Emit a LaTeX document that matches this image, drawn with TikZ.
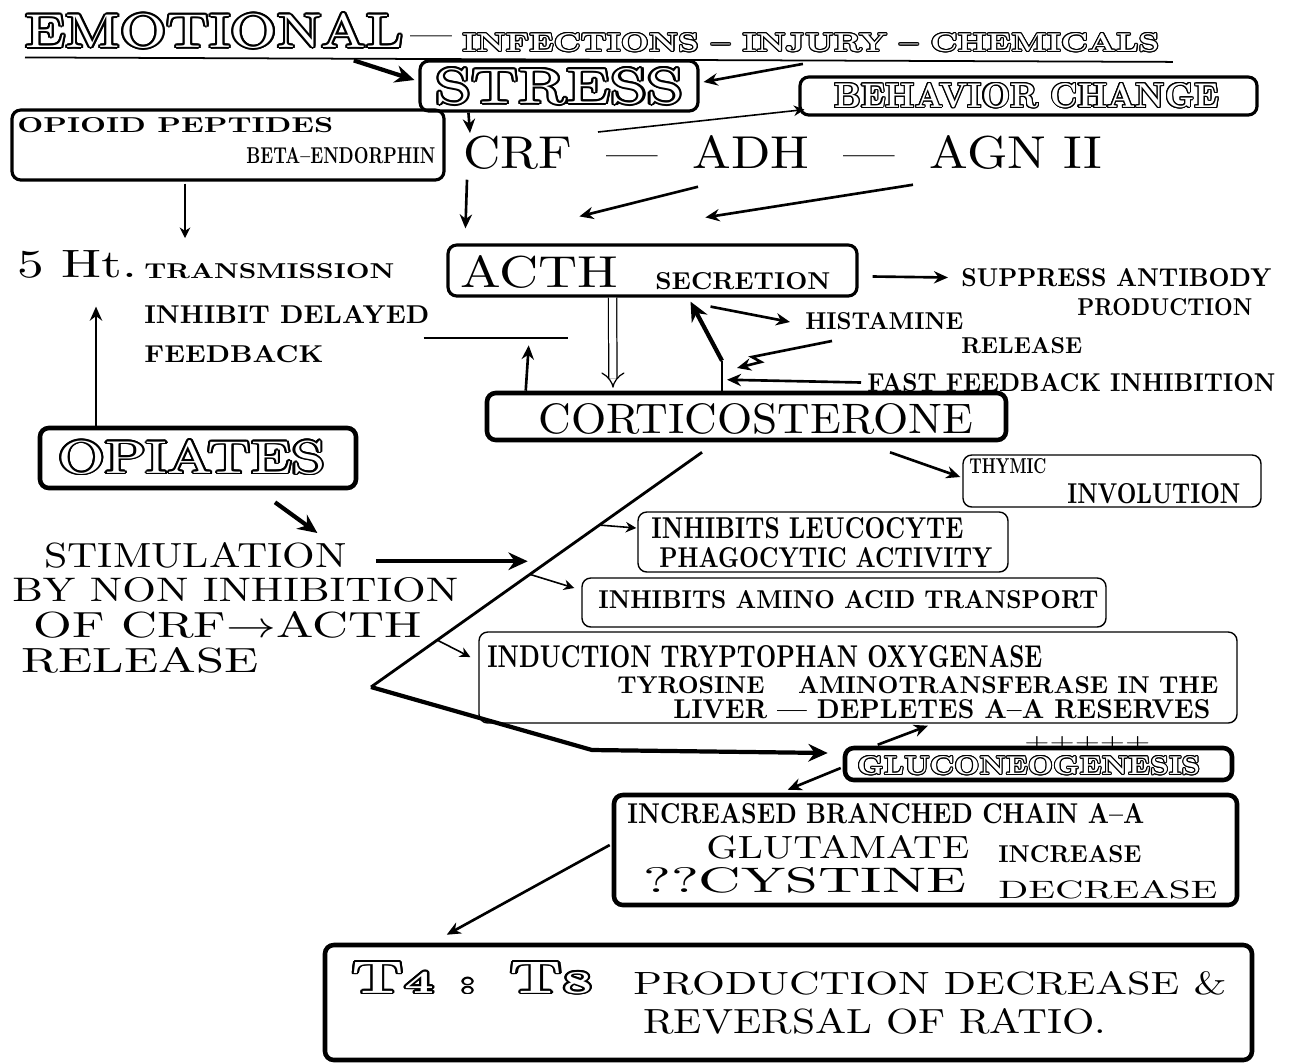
\documentclass[tikz,border=0pt]{standalone}
\usepackage{graphicx}
\usepackage[copies]{contour}
\usetikzlibrary{arrows.meta,calc}

\newlength{\pxu}
\setlength{\pxu}{0.02cm}
% text squeezed to the size it has on the sheet
\newcommand{\fit}[3]{\resizebox{#1\pxu}{#2\pxu}{#3}}
% hollow lettering
\newcommand{\hollow}[1]{{\color{white}\contour{black}{#1}}}
\contourlength{0.35pt}

\begin{document}
\begin{tikzpicture}[x=0.02cm,y=-0.02cm,
        txt/.style={inner sep=0pt,anchor=north west},
        framed/.style={draw,line width=1.8pt,rounded corners=5pt,inner sep=0pt},
        heavy/.style={draw,line width=2.6pt,rounded corners=5pt,inner sep=0pt},
        lightbox/.style={draw,line width=0.8pt,rounded corners=5pt,inner sep=0pt},
        arr/.style={-{Stealth[length=8pt,width=7pt]},line width=1.5pt},
        thinarr/.style={-{Stealth[length=6pt,width=6pt]},line width=0.9pt},
        fatarr/.style={-{Stealth[length=11pt,width=10pt]},line width=2.4pt}
    ]

    \useasboundingbox (0,0) rectangle (1290,1063);

    % boxes
    \node[framed,minimum width=278\pxu,minimum height=50\pxu] (stress) at (559,86) {};
    \node[framed,minimum width=457\pxu,minimum height=38\pxu] (behav) at (1028.5,96) {};
    \node[framed,minimum width=432\pxu,minimum height=70\pxu] (opioid) at (228,145) {};
    \node[framed,minimum width=409\pxu,minimum height=51\pxu] (acth) at (652.5,270.5) {};
    \node[heavy,minimum width=519\pxu,minimum height=47\pxu] (cort) at (746.5,416.5) {};
    \node[heavy,minimum width=316\pxu,minimum height=60\pxu] (opiates) at (198,458) {};
    \node[lightbox,minimum width=298\pxu,minimum height=52\pxu] (thymic) at (1112,481) {};
    \node[lightbox,minimum width=370\pxu,minimum height=60\pxu] (leuco) at (823,542) {};
    \node[lightbox,minimum width=524\pxu,minimum height=49\pxu] (amino) at (844,602.5) {};
    \node[lightbox,minimum width=758\pxu,minimum height=91\pxu] (induct) at (858,677.5) {};
    \node[heavy,minimum width=387\pxu,minimum height=32\pxu] (gluco) at (1038.5,764) {};
    \node[heavy,minimum width=623\pxu,minimum height=110\pxu] (incr) at (925.5,850) {};
    \node[heavy,minimum width=927\pxu,minimum height=115\pxu] (tcell) at (788.5,1002.5) {};

    % texts
    \node[txt] (emo) at (25,13) {\fit{378}{34}{\hollow{EMOTIONAL}}};
    \node[txt] (dash) at (410,36) {\resizebox{42\pxu}{!}{---}};
    \node[txt] (infect) at (462,33) {\fit{697}{18}{\hollow{\bfseries INFECTIONS -- INJURY -- CHEMICALS}}};
    \node[txt] (stresst) at (435,68) {\fit{248}{35}{\hollow{STRESS}}};
    \node[txt] (behavt) at (834,83) {\fit{385}{24}{\hollow{\bfseries BEHAVIOR CHANGE}}};
    \node[txt] (opioid1) at (17,117) {\fit{316}{15}{\bfseries OPIOID PEPTIDES}};
    \node[txt] (opioid2) at (246,147) {\fit{189}{16}{\bfseries BETA--ENDORPHIN}};
    \node[txt] (chem) at (463,135) {\fit{639}{33}{CRF \ --- \ ADH \ --- \ AGN II}};
    \node[txt] (ht) at (17,250) {\fit{120}{27}{5 Ht.}};
    \node[txt] (trans) at (144,263) {\fit{250}{15}{\bfseries TRANSMISSION}};
    \node[txt] (inhib) at (144,305) {\fit{285}{18}{\bfseries INHIBIT DELAYED}};
    \node[txt] (feedb) at (144,345) {\fit{179}{17}{\bfseries FEEDBACK}};
    \node[txt] (actht) at (460,255) {\fit{158}{32}{ACTH}};
    \node[txt] (secr) at (655,272) {\fit{175}{17}{\bfseries SECRETION}};
    \node[txt] (suppr) at (961,268) {\fit{310}{18}{\bfseries SUPPRESS ANTIBODY}};
    \node[txt] (prod) at (1077,298) {\fit{175}{17}{\bfseries PRODUCTION}};
    \node[txt] (hist) at (805,312) {\fit{158}{17}{\bfseries HISTAMINE}};
    \node[txt] (relh) at (961,337) {\fit{121}{16}{\bfseries RELEASE}};
    \node[txt] (fast) at (867,373) {\fit{408}{18}{\bfseries FAST FEEDBACK INHIBITION}};
    \node[txt] (cortt) at (538,403) {\fit{435}{30}{CORTICOSTERONE}};
    \node[txt] (opt) at (58,440) {\fit{267}{33}{\hollow{OPIATES}}};
    \node[txt] (stim1) at (44,542) {\fit{302}{25}{STIMULATION}};
    \node[txt] (stim2) at (12,577) {\fit{446}{24}{BY NON INHIBITION}};
    \node[txt] (stim3) at (33,611) {\fit{388}{26}{OF CRF$\rightarrow$ACTH}};
    \node[txt] (stim4) at (21,647) {\fit{237}{25}{RELEASE}};
    \node[txt] (thy1) at (969,458) {\fit{77}{15}{\bfseries THYMIC}};
    \node[txt] (thy2) at (1067,483) {\fit{173}{20}{\bfseries INVOLUTION}};
    \node[txt] (leu1) at (651,517) {\fit{312}{21}{\bfseries INHIBITS LEUCOCYTE}};
    \node[txt] (leu2) at (659,547) {\fit{333}{20}{\bfseries PHAGOCYTIC ACTIVITY}};
    \node[txt] (ami) at (598,590) {\fit{500}{18}{\bfseries INHIBITS AMINO ACID TRANSPORT}};
    \node[txt] (ind1) at (487,645) {\fit{555}{22}{\bfseries INDUCTION TRYPTOPHAN OXYGENASE}};
    \node[txt] (ind2) at (617,676) {\fit{601}{17}{\bfseries TYROSINE \quad AMINOTRANSFERASE IN THE}};
    \node[txt] (ind3) at (673,699) {\fit{537}{19}{\bfseries LIVER --- DEPLETES A--A RESERVES}};
    \node[txt] (plus) at (1024,736) {\fit{126}{12}{+++++}};
    \node[txt] (glut) at (857,756) {\fit{343}{18}{\hollow{\bfseries GLUCONEOGENESIS}}};
    \node[txt] (inc1) at (627,803) {\fit{517}{20}{\bfseries INCREASED BRANCHED CHAIN A--A}};
    \node[txt] (glu) at (706,835) {\fit{263}{23}{GLUTAMATE}};
    \node[txt] (incw) at (998,845) {\fit{143}{17}{\bfseries INCREASE}};
    \node[txt] (cys) at (643,867) {\fit{323}{25}{??CYSTINE}};
    \node[txt] (decw) at (998,880) {\fit{219}{18}{DECREASE}};
    \node[txt] (t48) at (351,962) {\fit{241}{31}{\hollow{\bfseries T{\scriptsize 4} {\scriptsize :} T{\scriptsize 8}}}};
    \node[txt] (prodt) at (633,971) {\fit{593}{23}{PRODUCTION DECREASE \&}};
    \node[txt] (revt) at (643,1008) {\fit{463}{25}{REVERSAL OF RATIO.}};

    % underline of the heading
    \draw[line width=1pt] ([shift={(0,7)}]emo.south west) -- ([shift={(13,9)}]infect.south east);

    % top
    \draw[fatarr] ([shift={(-50,10)}]emo.south east) -- ([shift={(-4,-6)}]stress.west);
    \draw[arr] ([shift={(-8,11)}]infect.south) -- ([shift={(4,-4)}]stress.east);
    \draw[arr] ([shift={(50,0)}]stress.south west) -- ([shift={(7,-2)}]chem.north west);
    \draw[thinarr] ([shift={(135,-3)}]chem.north west) -- ([shift={(6,-7)}]behav.south west);
    \draw[arr] ([shift={(4,10)}]chem.south west) -- ([shift={(19,-15)}]acth.north west);
    \draw[arr] ([shift={(235,17)}]chem.south west) -- ([shift={(133,-27)}]acth.north west);
    \draw[arr] ([shift={(450,15)}]chem.south west) -- ([shift={(259,-26)}]acth.north west);
    \draw[thinarr] ([shift={(-43,2)}]opioid.south) -- ([shift={(168,-12)}]ht.north west);
    \draw[arr] ([shift={(-102,0)}]opiates.north) -- ([shift={(79,28)}]ht.south west);

    % ACTH and corticosterone
    \coordinate (bar) at ([shift={(-6,24)}]inhib.east);
    \draw[line width=1.2pt] (bar) -- ++(144,0);
    \draw[arr] ([shift={(41,0)}]cort.north west) -- ([shift={(105,7)}]bar);
    \draw[double,double distance=4pt,line width=0.7pt,-{Implies}] ([shift={(-40,0)}]acth.south) -- ([shift={(-133.5,-3)}]cort.north);
    \coordinate (fork) at ([shift={(-24.5,-30)}]cort.north);
    \draw[line width=1pt] (cort.north -| fork) -- (fork);
    \draw[fatarr] (fork) -- ([shift={(38,4)}]acth.south);
    \draw[arr] ([shift={(58,9)}]acth.south) -- ([shift={(-15,1)}]hist.west);
    \draw[arr] ([shift={(27,11)}]hist.south west) -- ++(-80,16) -- ++(9,5) -- ++(-24,6);
    \draw[arr] ([shift={(-6,0)}]fast.west) -- ([shift={(5,19)}]fork);
    \draw[arr] ([shift={(14,6)}]acth.east) -- ([shift={(-13,0)}]suppr.west);
    \draw[arr] ([shift={(143.5,10)}]cort.south) -- ([shift={(-2,-4)}]thymic.west);

    % opiates
    \draw[fatarr] ([shift={(77,12)}]opiates.south) -- ([shift={(122,-9)}]stim1.north);
    \draw[fatarr] ([shift={(29,6)}]stim1.east) -- ([shift={(181,6)}]stim1.east);

    % effects of corticosterone
    \coordinate (dtop) at ([shift={(-44.5,10)}]cort.south);
    \coordinate (vtx) at (371,687);
    \coordinate (bend) at (592,750);
    \draw[line width=1.6pt] (dtop) -- (vtx);
    \draw[fatarr] (vtx) -- (bend) -- ([shift={(-15,-11)}]gluco.west);
    \draw[thinarr] ($(dtop)!0.31!(vtx)$) -- ([shift={(-1,-14)}]leuco.west);
    \draw[thinarr] ($(dtop)!0.52!(vtx)$) -- ([shift={(-7,-14.5)}]amino.west);
    \draw[thinarr] ($(dtop)!0.80!(vtx)$) -- ([shift={(-8,-20.5)}]induct.west);

    % gluconeogenesis
    \draw[arr] ([shift={(35,-1)}]gluco.north west) -- ([shift={(70,2)}]induct.south);
    \draw[arr] ([shift={(-2,4)}]gluco.west) -- ([shift={(176,-3)}]incr.north west);
    \draw[arr] ([shift={(-2,-5)}]incr.west) -- ([shift={(124,-8)}]tcell.north west);

\end{tikzpicture}
\end{document}
